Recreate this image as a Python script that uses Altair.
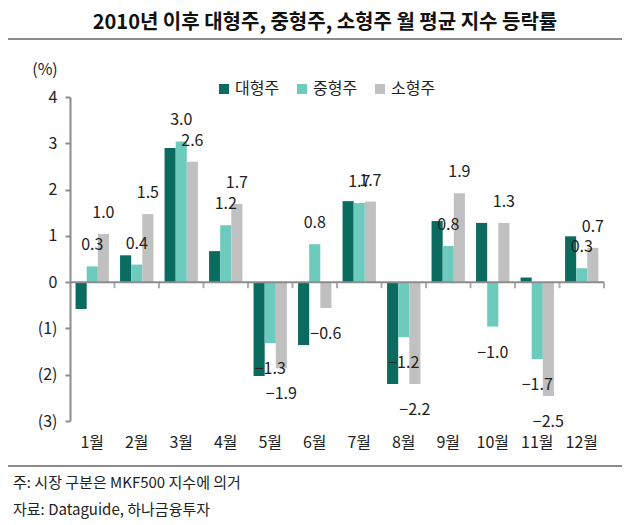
import altair as alt
import pandas as pd

months = ["1월", "2월", "3월", "4월", "5월", "6월", "7월", "8월", "9월", "10월", "11월", "12월"]
series = ["대형주", "중형주", "소형주"]
large = [-0.58, 0.58, 2.90, 0.67, -2.03, -1.36, 1.75, -2.20, 1.32, 1.28, 0.10, 0.99]
mid = [0.34, 0.38, 3.04, 1.23, -1.32, 0.82, 1.71, -1.19, 0.78, -0.96, -1.66, 0.30]
small = [1.04, 1.47, 2.60, 1.69, -1.86, -0.56, 1.74, -2.20, 1.92, 1.28, -2.46, 0.74]
colors = ["#0b6b5f", "#6ccbbd", "#c0c0c0"]
labeled = ["중형주", "소형주"]

title_text = "2010년 이후 대형주, 중형주, 소형주 월 평균 지수 등락률"
note1 = "주: 시장 구분은 MKF500 지수에 의거"
note2 = "자료: Dataguide, 하나금융투자"

rows = []
for name, vals in zip(series, [large, mid, small]):
    for m, v in zip(months, vals):
        rows.append({"month": m, "series": name, "value": v})
df = pd.DataFrame(rows)

FONT = "Noto Sans CJK KR"
AXC = "#8c8c8c"

W, H = 534, 324
xscale = alt.Scale(paddingInner=0, paddingOuter=0)
offscale = alt.Scale(paddingInner=0, paddingOuter=0.5)

x_enc = alt.X("month:N", sort=months, title=None, scale=xscale,
              axis=alt.Axis(orient="bottom", domain=False, ticks=False, labelAngle=0,
                            labelFontSize=16, labelFont=FONT, labelColor="#222222",
                            labelPadding=13))
y_enc = alt.Y("value:Q", title=None,
              scale=alt.Scale(domain=[-3, 4], nice=False, zero=False),
              axis=alt.Axis(values=[-3, -2, -1, 0, 1, 2, 3, 4], grid=False,
                            domainColor=AXC, domainWidth=2, tickColor=AXC, tickWidth=2,
                            tickSize=5, labelFontSize=16, labelFont=FONT,
                            labelColor="#222222", labelPadding=8,
                            labelExpr="datum.value < 0 ? '(' + abs(datum.value) + ')' : datum.value"))

base = alt.Chart(df)

bars = base.mark_bar().encode(
    x=x_enc,
    xOffset=alt.XOffset("series:N", sort=series, scale=offscale),
    y=y_enc,
    color=alt.Color("series:N", sort=series,
                    scale=alt.Scale(domain=series, range=colors),
                    legend=alt.Legend(orient="none", legendX=146, legendY=-16,
                                      direction="horizontal", title=None,
                                      symbolType="square", symbolSize=100,
                                      symbolStrokeWidth=0, symbolOpacity=1,
                                      labelFontSize=16, labelFont=FONT,
                                      labelColor="#222222", labelOffset=3,
                                      columnPadding=14)),
)

zero_line = alt.Chart(pd.DataFrame({"z": [0]})).mark_rule(color=AXC, strokeWidth=2).encode(
    y=alt.Y("z:Q"))

month_ticks = alt.Chart(pd.DataFrame({"month": months})).mark_tick(
    color=AXC, thickness=2, size=6, orient="vertical").encode(
    x=alt.X("month:N", sort=months, bandPosition=1),
    y=alt.YDatum(0),
    yOffset=alt.value(3),
)

lab = base.transform_filter(alt.FieldOneOfPredicate(field="series", oneOf=labeled))


def labels(cond, dy):
    return lab.transform_filter(cond).mark_text(
        dy=dy, baseline="middle", align="center", fontSize=16, font=FONT, color="#222222"
    ).encode(
        x=alt.X("month:N", sort=months),
        xOffset=alt.XOffset("series:N", sort=series),
        y=alt.Y("value:Q"),
        text=alt.Text("value:Q", format=".1f"),
    )


pos_labels = labels("datum.value >= 0", -21)
neg_labels = labels("datum.value < 0", 26)

one = pd.DataFrame({"t": [0]})
title = alt.Chart(one).mark_text(fontSize=20, font=FONT, fontWeight="bold",
                                 color="#111111", align="center", baseline="middle").encode(
    x=alt.value(255), y=alt.value(-74), text=alt.value(title_text))
pct = alt.Chart(one).mark_text(fontSize=16, font=FONT, color="#222222",
                               align="center", baseline="middle").encode(
    x=alt.value(-25), y=alt.value(-27), text=alt.value("(%)"))
n1 = alt.Chart(one).mark_text(fontSize=15, font=FONT, color="#222222",
                              align="left", baseline="middle").encode(
    x=alt.value(-57), y=alt.value(386), text=alt.value(note1))
n2 = alt.Chart(one).mark_text(fontSize=15, font=FONT, color="#222222",
                              align="left", baseline="middle").encode(
    x=alt.value(-57), y=alt.value(413), text=alt.value(note2))
line_top = alt.Chart(one).mark_rule(color="#8c8c8c", strokeWidth=2).encode(
    x=alt.value(-62), x2=alt.value(560), y=alt.value(-58))
line_bot = alt.Chart(one).mark_rule(color="#8c8c8c", strokeWidth=2).encode(
    x=alt.value(-62), x2=alt.value(560), y=alt.value(369))

chart = alt.layer(
    bars, zero_line, month_ticks, pos_labels, neg_labels, title, pct, n1, n2, line_top, line_bot
).properties(
    width=W, height=H,
    autosize=alt.AutoSizeParams(type="none"),
    padding={"left": 62, "top": 89, "right": 18, "bottom": 100},
    background="white",
).configure_view(stroke=None)

chart.save("out.html", embed_options={"renderer": "svg", "actions": False})
